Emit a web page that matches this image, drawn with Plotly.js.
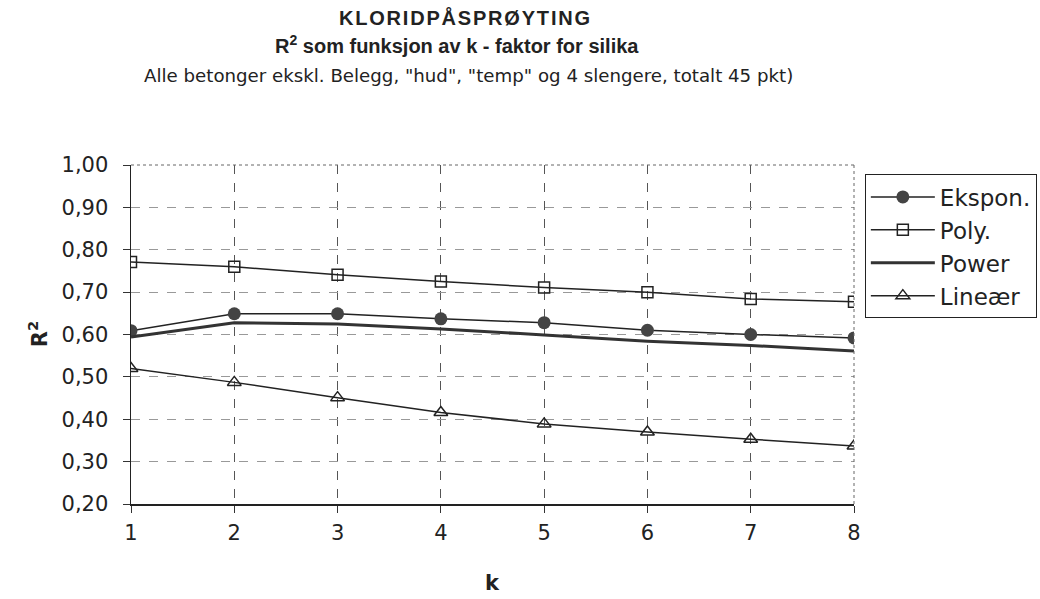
<!DOCTYPE html>
<html>
<head>
<meta charset="utf-8">
<script src="https://cdn.plot.ly/plotly-3.0.1.min.js"></script>
<style>
html,body{margin:0;padding:0;background:#fff;}
#chart{width:1040px;height:599px;}
</style>
</head>
<body>
<div id="chart"></div>
<script>
const kValues = [1, 2, 3, 4, 5, 6, 7, 8];
const ekspon = [0.609, 0.649, 0.649, 0.637, 0.628, 0.610, 0.600, 0.592];
const poly   = [0.771, 0.760, 0.741, 0.725, 0.711, 0.700, 0.684, 0.677];
const power  = [0.594, 0.628, 0.625, 0.613, 0.599, 0.584, 0.574, 0.561];
const linear = [0.520, 0.487, 0.451, 0.416, 0.389, 0.370, 0.353, 0.337];
const seriesNames = ["Ekspon.", "Poly.", "Power", "Lineær"];
const yTicks = [0.2, 0.3, 0.4, 0.5, 0.6, 0.7, 0.8, 0.9, 1.0];

const FONT = "DejaVu Sans, Liberation Sans, Arial, sans-serif";
const FONT_B = "Liberation Sans, Arial, sans-serif";

const traces = [
  {x: kValues, y: ekspon, name: seriesNames[0], legendgroup: "a", mode: "lines+markers",
   line: {color: "#222", width: 1.5},
   marker: {symbol: "circle", size: 13, color: "#444", line: {color: "#444", width: 0}}},
  {x: kValues, y: poly, name: seriesNames[1], legendgroup: "b", mode: "lines+markers",
   line: {color: "#222", width: 1.5},
   marker: {symbol: "square-open", size: 11, color: "#222", line: {color: "#222", width: 1.5}}},
  {x: kValues, y: power, name: seriesNames[2], legendgroup: "c", mode: "lines",
   line: {color: "#333", width: 3}},
  {x: kValues, y: linear, name: seriesNames[3], legendgroup: "d", mode: "lines+markers",
   line: {color: "#222", width: 1.5},
   marker: {symbol: "triangle-up-open", size: 12, color: "#222", line: {color: "#222", width: 1.5}}}
];

const layout = {
  width: 1040, height: 599,
  paper_bgcolor: "#fff", plot_bgcolor: "#fff",
  separators: ", ",
  font: {family: FONT, color: "#222", size: 20},
  margin: {l: 131, r: 186, t: 165, b: 95, autoexpand: false},
  showlegend: true,
  legend: {
    x: 1.015, xanchor: "left", y: 0.972, yanchor: "top",
    bordercolor: "#222", borderwidth: 1, bgcolor: "#fff",
    font: {family: FONT, size: 23, color: "#222"},
    itemwidth: 64, tracegroupgap: 0
  },
  xaxis: {
    range: [1, 8], tickvals: kValues, ticks: "outside", ticklen: 7, tickcolor: "#333",
    showline: true, linecolor: "#222", linewidth: 1.5,
    showgrid: true, gridcolor: "#555", griddash: "dash", gridwidth: 1,
    zeroline: false, tickfont: {family: FONT, size: 21, color: "#222"},
    ticklabelstandoff: 2
  },
  yaxis: {
    range: [0.2, 1.0], tickvals: yTicks, tickformat: ".2f", ticks: "outside", ticklen: 7,
    tickcolor: "#333",
    showline: true, linecolor: "#222", linewidth: 1.5,
    showgrid: true, gridcolor: "#999", griddash: "dash", gridwidth: 1,
    zeroline: false, tickfont: {family: FONT, size: 21, color: "#222"},
    ticklabelstandoff: 10
  },
  shapes: [
    {type: "line", xref: "paper", yref: "paper", x0: 0, x1: 1, y0: 1, y1: 1,
     line: {color: "#666", width: 1, dash: "dot"}},
    {type: "line", xref: "paper", yref: "paper", x0: 1, x1: 1, y0: 0, y1: 1,
     line: {color: "#666", width: 1, dash: "dot"}}
  ],
  annotations: [
    {text: "<b><span style=\"letter-spacing:1.8px\">KLORIDPÅSPRØYTING</span></b>", xref: "paper", yref: "paper",
     x: 0.462, y: 1.434, xanchor: "center", yanchor: "middle", showarrow: false,
     font: {family: FONT_B, size: 20, color: "#222"}},
    {text: "<b>R<sup>2</sup> som funksjon av k - faktor for silika</b>", xref: "paper", yref: "paper",
     x: 0.451, y: 1.355, xanchor: "center", yanchor: "middle", showarrow: false,
     font: {family: FONT_B, size: 20, color: "#222"}},
    {text: "Alle betonger ekskl. Belegg, \"hud\", \"temp\" og 4 slengere, totalt 45 pkt)", xref: "paper", yref: "paper",
     x: 0.467, y: 1.265, xanchor: "center", yanchor: "middle", showarrow: false,
     font: {family: FONT, size: 18.2, color: "#222"}},
    {text: "<b>R<sup>2</sup></b>", xref: "paper", yref: "paper",
     x: -0.129, y: 0.5, xanchor: "center", yanchor: "middle", showarrow: false, textangle: -90,
     font: {family: FONT, size: 21, color: "#222"}},
    {text: "<b>k</b>", xref: "paper", yref: "paper",
     x: 0.5, y: -0.233, xanchor: "center", yanchor: "middle", showarrow: false,
     font: {family: FONT, size: 21, color: "#222"}}
  ]
};

Plotly.newPlot("chart", traces, layout, {displayModeBar: false, staticPlot: true});
</script>
</body>
</html>
